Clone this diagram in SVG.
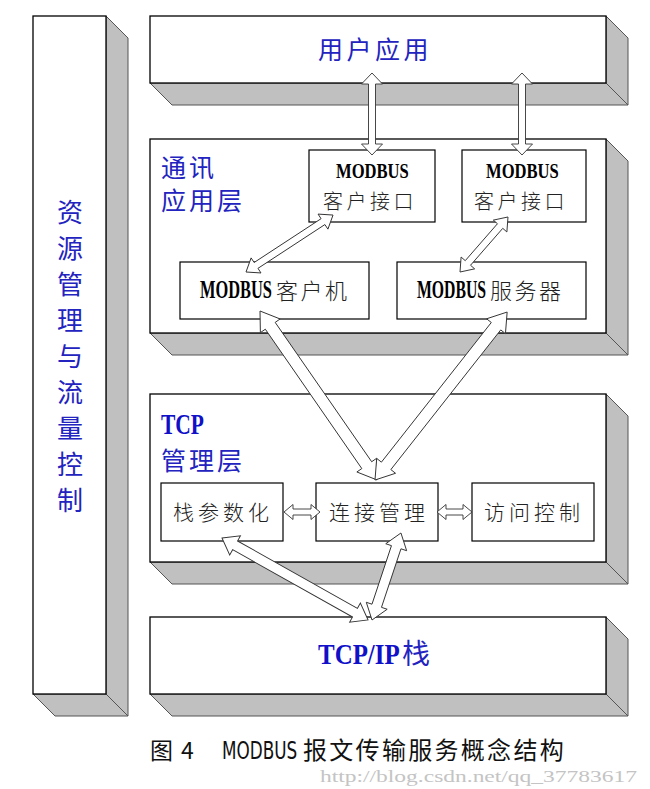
<svg xmlns="http://www.w3.org/2000/svg" width="650" height="789" viewBox="0 0 650 789">
<style>
.front{fill:#fff;stroke:#000;stroke-width:1.3}
.side{fill:#c0c0c0;stroke:#555;stroke-width:1}
.box{fill:#fff;stroke:#000;stroke-width:1.2}
.arr{fill:#fff;stroke:#333;stroke-width:0.9;stroke-linejoin:miter}
.blue{fill:#2323c0;font-family:"Noto Sans CJK SC",sans-serif}
.bluebold{fill:#1010c8;font-family:"Liberation Serif",serif;font-weight:bold}
.mb{fill:#000;font-family:"Liberation Serif",serif;font-weight:bold}
.cn{fill:#222;font-family:"Noto Sans CJK SC",sans-serif;font-weight:300}
.cap{fill:#111;font-family:"Noto Sans CJK SC",sans-serif}
</style>
<rect width="650" height="789" fill="#fff"/>

<g id="res">
<polygon class="side" points="106,16 128,38 128,716 106,694"/>
<polygon class="side" points="33,694 106,694 128,716 55,716"/>
<rect class="front" x="33" y="16" width="73" height="678"/>
<text class="blue" font-size="26" text-anchor="middle"><tspan x="70" y="222">资</tspan><tspan x="70" y="258">源</tspan><tspan x="70" y="294">管</tspan><tspan x="70" y="330">理</tspan><tspan x="70" y="366">与</tspan><tspan x="70" y="402">流</tspan><tspan x="70" y="438">量</tspan><tspan x="70" y="474">控</tspan><tspan x="70" y="510">制</tspan></text>
</g>

<g id="user">
<polygon class="side" points="606,16 628,38 628,105 606,83"/>
<polygon class="side" points="150,83 606,83 628,105 172,105"/>
<rect class="front" x="150" y="16" width="456" height="67"/>
<text class="blue" x="318" y="59" font-size="25" letter-spacing="3.5">用户应用</text>
</g>

<g id="comm">
<polygon class="side" points="606,139 628,161 628,355 606,333"/>
<polygon class="side" points="150,333 606,333 628,355 172,355"/>
<rect class="front" x="150" y="139" width="456" height="194"/>
<text class="blue" x="161" y="177" font-size="25" letter-spacing="3">通讯</text>
<text class="blue" x="161" y="210" font-size="25" letter-spacing="3">应用层</text>
</g>

<g id="tcpm">
<polygon class="side" points="606,394 628,416 628,584 606,562"/>
<polygon class="side" points="150,562 606,562 628,584 172,584"/>
<rect class="front" x="150" y="394" width="456" height="168"/>
<text class="bluebold" transform="translate(161,434) scale(0.717,1)" font-size="30">TCP</text>
<text class="blue" x="161" y="470" font-size="25" letter-spacing="3">管理层</text>
</g>

<g id="tcpip">
<polygon class="side" points="606,617 628,639 628,716 606,694"/>
<polygon class="side" points="150,694 606,694 628,716 172,716"/>
<rect class="front" x="150" y="617" width="456" height="77"/>
<text class="bluebold" transform="translate(318,664) scale(0.86,1)" font-size="29">TCP/IP</text>
<text class="blue" x="402" y="664" font-size="28">栈</text>
</g>

<g id="ci1">
<rect class="box" x="309" y="150" width="126" height="72"/>
<text class="mb" transform="translate(336,178) scale(0.79,1)" font-size="21">MODBUS</text>
<text class="cn" x="323" y="209" font-size="20" letter-spacing="3.5">客户接口</text>
</g>

<g id="ci2">
<rect class="box" x="462" y="150" width="124" height="72"/>
<text class="mb" transform="translate(486,178) scale(0.79,1)" font-size="21">MODBUS</text>
<text class="cn" x="474" y="209" font-size="20" letter-spacing="3.5">客户接口</text>
</g>

<g id="client">
<rect class="box" x="180" y="262" width="189" height="57"/>
<text class="mb" transform="translate(200,298) scale(0.656,1)" font-size="25">MODBUS</text>
<text class="cn" x="276" y="299" font-size="22" letter-spacing="2.5">客户机</text>
</g>

<g id="server">
<rect class="box" x="397" y="262" width="189" height="57"/>
<text class="mb" transform="translate(417,298) scale(0.63,1)" font-size="25">MODBUS</text>
<text class="cn" x="490" y="299" font-size="22" letter-spacing="2.5">服务器</text>
</g>

<g id="stack">
<rect class="box" x="161" y="483" width="122" height="58"/>
<text class="cn" x="173" y="520" font-size="21" letter-spacing="4">栈参数化</text>
</g>

<g id="conn">
<rect class="box" x="316" y="483" width="122" height="58"/>
<text class="cn" x="329" y="520" font-size="21" letter-spacing="4">连接管理</text>
</g>

<g id="acc">
<rect class="box" x="472" y="483" width="122" height="58"/>
<text class="cn" x="484" y="520" font-size="21" letter-spacing="4">访问控制</text>
</g>

<g id="connectors">
<polygon class="arr" transform="translate(372,73) rotate(90)" points="0,0 11,-10.5 11,-3.5 71,-3.5 71,-10.5 82,0 71,10.5 71,3.5 11,3.5 11,10.5"/>
<polygon class="arr" transform="translate(522,73) rotate(90)" points="0,0 11,-10.5 11,-3.5 71,-3.5 71,-10.5 82,0 71,10.5 71,3.5 11,3.5 11,10.5"/>
<polygon class="arr" transform="translate(246,272) rotate(-33.2)" points="0,0 12,-9 12,-3.5 92,-3.5 92,-9 104,0 92,9 92,3.5 12,3.5 12,9"/>
<polygon class="arr" transform="translate(460,272) rotate(-48.9)" points="0,0 12,-9 12,-3.5 61,-3.5 61,-9 73,0 61,9 61,3.5 12,3.5 12,9"/>
<polygon class="arr" transform="translate(260,311) rotate(55.3)" points="0,0 18,-12 18,-6 187.5,-6 187.5,-12 205.5,0 187.5,12 187.5,6 18,6 18,12"/>
<polygon class="arr" transform="translate(375,480) rotate(-51.8)" points="0,0 18,-12 18,-6 195.7,-6 195.7,-12 213.7,0 195.7,12 195.7,6 18,6 18,12"/>
<polygon class="arr" transform="translate(284,512)" points="0,0 9,-7.5 9,-3 27,-3 27,-7.5 36,0 27,7.5 27,3 9,3 9,7.5"/>
<polygon class="arr" transform="translate(437,512)" points="0,0 9,-7.5 9,-3 26,-3 26,-7.5 35,0 26,7.5 26,3 9,3 9,7.5"/>
<polygon class="arr" transform="translate(222,538) rotate(29.3)" points="0,0 15,-11 15,-5 152.5,-5 152.5,-11 167.5,0 152.5,11 152.5,5 15,5 15,11"/>
<polygon class="arr" transform="translate(372,620) rotate(-71.6)" points="0,0 15,-11 15,-5 76.7,-5 76.7,-11 91.7,0 76.7,11 76.7,5 15,5 15,11"/>
</g>

<g id="caption">
<text class="cap" x="150" y="759" font-size="23">图</text>
<text class="cap" x="181" y="759" font-size="23" font-family="DejaVu Sans Condensed, sans-serif">4</text>
<text transform="translate(222,759) scale(0.78,1)" font-size="24" fill="#111" font-family="DejaVu Sans Condensed, sans-serif">MODBUS</text>
<text class="cap" x="303" y="759" font-size="24" letter-spacing="2.3">报文传输服务概念结构</text>
<text x="320" y="782" font-size="16" fill="#c4c4c4" font-family="Liberation Serif, serif" textLength="317" lengthAdjust="spacingAndGlyphs">http://blog.csdn.net/qq_37783617</text>
</g>
</svg>
